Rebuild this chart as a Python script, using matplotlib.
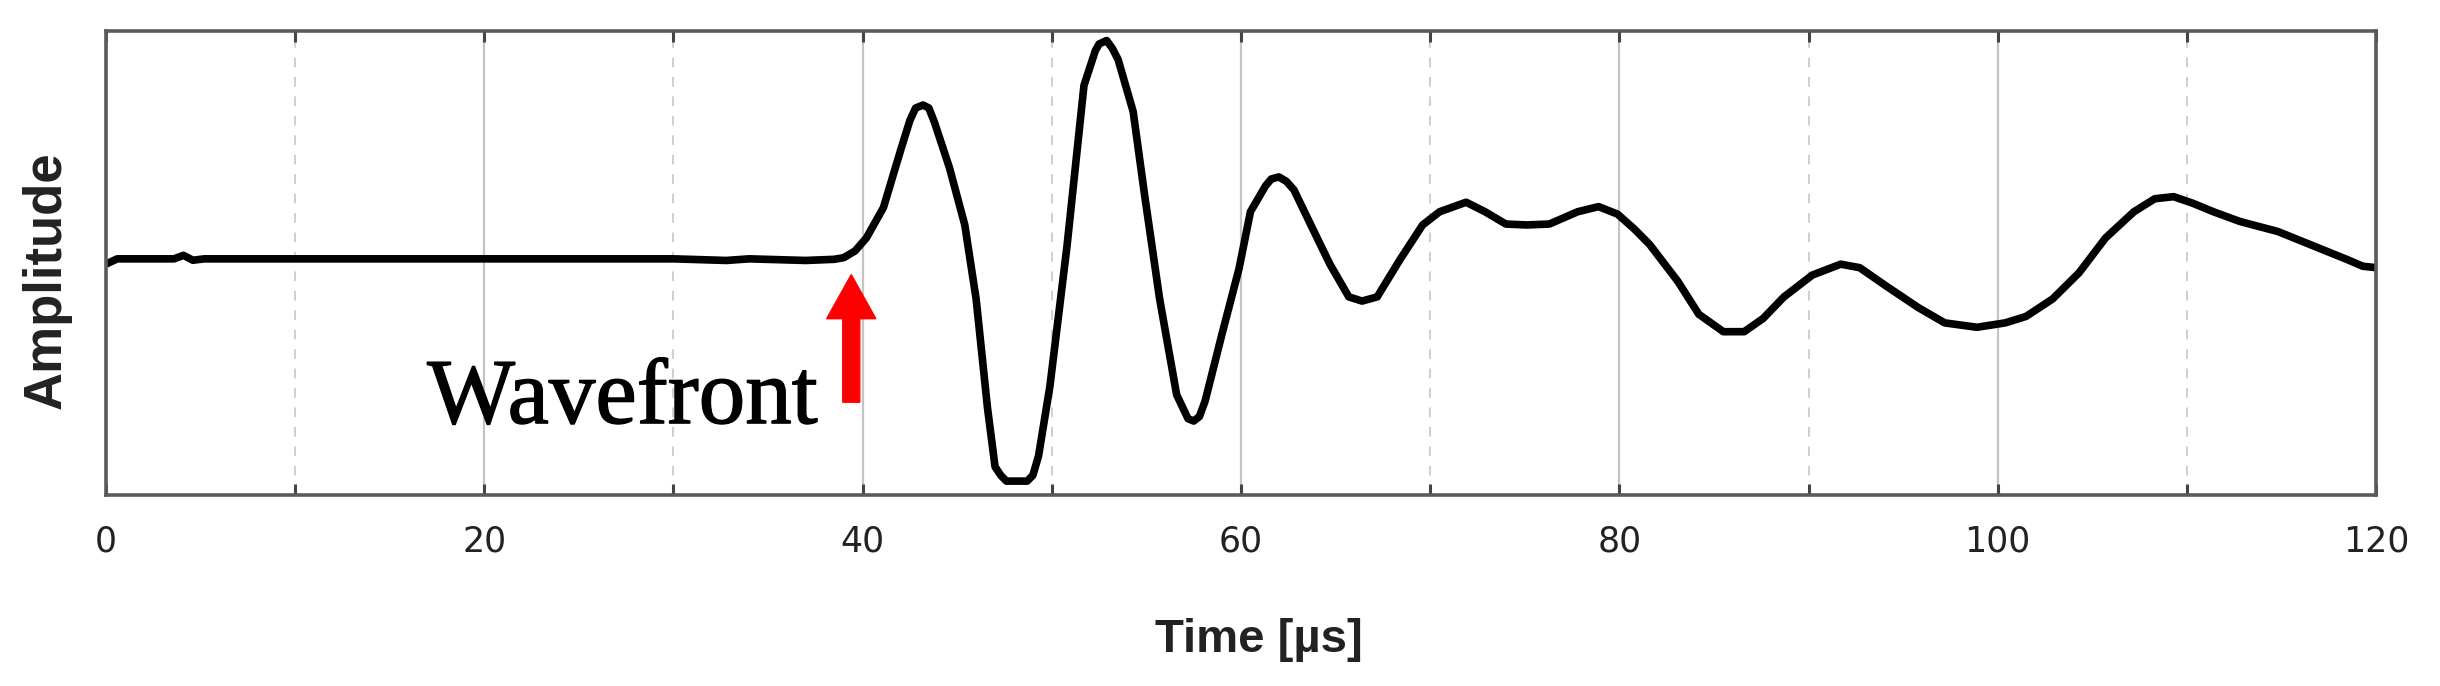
import numpy as np
import matplotlib.pyplot as plt
import matplotlib.patheffects as pe
from matplotlib.ticker import MultipleLocator

# ===== DATA (amplitude in arbitrary units) =====
time_us = [0.0, 0.6, 3.6, 4.1, 4.6, 5.2, 10.0, 20.0, 30.0, 32.8, 34.0, 37.0, 38.5,
           39.0, 39.6, 40.2, 41.1, 42.0, 42.5, 42.8, 43.2, 43.5, 43.8, 44.6, 45.4,
           46.0, 46.6, 47.0, 47.3, 47.6, 48.7, 49.0, 49.3, 49.9, 50.8, 51.7, 52.3,
           52.5, 52.9, 53.2, 53.5, 54.3, 54.9, 55.7, 56.6, 57.2, 57.5, 57.8, 58.1,
           59.0, 59.9, 60.5, 61.3, 61.6, 62.0, 62.4, 62.8, 63.8, 64.7, 65.7, 66.4,
           67.2, 68.4, 69.6, 70.5, 71.9, 72.9, 74.0, 75.1, 76.3, 77.8, 78.9, 79.9,
           80.8, 81.6, 83.1, 84.2, 85.5, 86.6, 87.6, 88.7, 90.2, 91.7, 92.7, 94.1,
           95.8, 97.2, 98.9, 100.4, 101.5, 102.9, 104.3, 105.7, 107.2, 108.3, 109.3,
           110.3, 111.4, 112.8, 114.8, 116.5, 118.5, 119.3, 120.0]
amplitude = [-0.005, 0.018, 0.018, 0.033, 0.012, 0.018, 0.018, 0.018, 0.018, 0.011,
             0.018, 0.011, 0.016,
             0.023, 0.052, 0.108, 0.239, 0.484, 0.615, 0.668, 0.681, 0.668, 0.606,
             0.408, 0.164, -0.155, -0.624, -0.878, -0.915, -0.940, -0.940, -0.915,
             -0.831, -0.531, 0.070, 0.765, 0.915, 0.944, 0.959, 0.925, 0.878, 0.653,
             0.296, -0.155, -0.568, -0.671, -0.681, -0.662, -0.596, -0.305, -0.023,
             0.221, 0.333, 0.362, 0.371, 0.352, 0.315, 0.146, -0.005, -0.146, -0.164,
             -0.146, 0.014, 0.164, 0.221, 0.262, 0.221, 0.168, 0.164, 0.168, 0.221,
             0.243, 0.211, 0.146, 0.080, -0.080, -0.221, -0.296, -0.296, -0.239,
             -0.146, -0.052, -0.005, -0.020, -0.099, -0.192, -0.258, -0.277, -0.258,
             -0.230, -0.155, -0.042, 0.108, 0.221, 0.277, 0.286, 0.258, 0.221, 0.179,
             0.136, 0.080, 0.014, -0.014, -0.020]

arrow_t = 39.4
arrow_tip = -0.05
arrow_tail = -0.60
label_text = "Wavefront"

# ===== PLOT =====
fig = plt.figure(figsize=(24.4, 6.86), dpi=100)
ax = fig.add_axes([0.0434, 0.2784, 0.9304, 0.6764])

ax.plot(time_us, amplitude, color='black', linewidth=5.5,
        solid_joinstyle='round', solid_capstyle='round')

ax.set_xlim(0, 120)
ax.set_ylim(-1, 1)
ax.set_yticks([])

ax.xaxis.set_major_locator(MultipleLocator(20))
ax.xaxis.set_minor_locator(MultipleLocator(10))
ax.grid(True, which='major', axis='x', color='#c4c4c4', linewidth=1.6, linestyle='-')
ax.grid(True, which='minor', axis='x', color='#cfcfcf', linewidth=1.4, linestyle=(0, (5, 5)))
ax.set_axisbelow(True)
ax.tick_params(axis='x', which='both', direction='in', top=True, length=8, width=2.2,
               color='#444444')
ax.tick_params(axis='x', which='major', labelsize=25, pad=21, labelcolor='#222222')

for sp in ax.spines.values():
    sp.set_color('#5a5a5a')
    sp.set_linewidth(2.6)

# red arrow marking the wavefront
ax.arrow(arrow_t, arrow_tail, 0, arrow_tip - arrow_tail, width=0.9, head_width=2.6,
         head_length=0.19, length_includes_head=True, color='#ff0000', zorder=5)
ax.text(37.6, -0.69, label_text, ha='right', va='baseline', fontsize=67,
        family='Liberation Serif', color='black',
        path_effects=[pe.withStroke(linewidth=1.0, foreground='black')])

fig.text(0.516, 0.067, "Time [µs]", ha='center', va='center', fontsize=34,
         family='Liberation Sans', fontweight='bold', color='#222222')
fig.text(0.019, 0.592, "Amplitude", ha='center', va='center', rotation=90,
         fontsize=38, family='Liberation Sans', fontweight='bold', color='#222222')

plt.savefig("out.png", dpi=100)
